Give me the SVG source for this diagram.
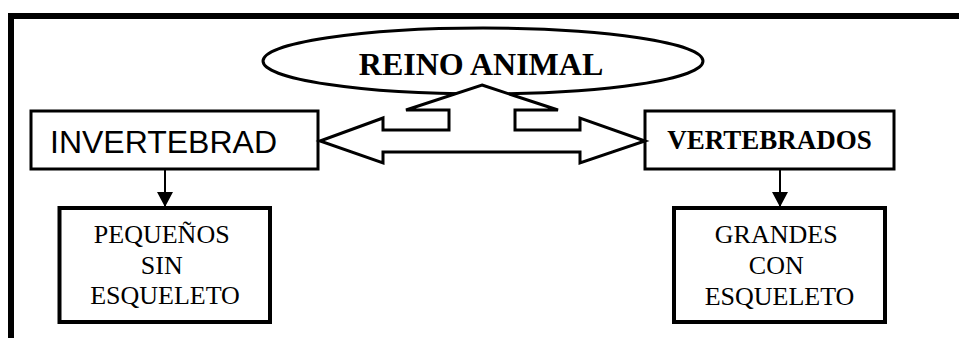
<svg xmlns="http://www.w3.org/2000/svg" width="959" height="338" viewBox="0 0 959 338">
  <style>
    .box { fill: #ffffff; stroke: #000000; stroke-width: 3; }
    .thick { fill: #ffffff; stroke: #000000; stroke-width: 4; }
    .serif { font-family: "Liberation Serif", "Times New Roman", serif; fill: #000000; }
    .sans { font-family: "Liberation Sans", Arial, sans-serif; fill: #000000; }
    .conn { stroke: #000000; stroke-width: 2; fill: none; }
  </style>
  <defs>
    <marker id="arrow" markerUnits="userSpaceOnUse" viewBox="0 0 15 16" refX="15" refY="8" markerWidth="15" markerHeight="16" orient="auto">
      <path d="M0,0 L15,8 L0,16 z" fill="#000000"/>
    </marker>
  </defs>
  <rect x="0" y="0" width="959" height="338" fill="#ffffff"/>
  <!-- outer frame -->
  <path d="M11,338 L11,16 L959,16" fill="none" stroke="#000000" stroke-width="6"/>

  <g id="reino-animal">
    <ellipse cx="483" cy="61" rx="220" ry="33" class="box"/>
    <text x="481" y="75" text-anchor="middle" class="serif" font-size="32" font-weight="bold">REINO ANIMAL</text>
  </g>

  <g id="invertebrados">
    <rect x="31" y="111" width="287" height="58" class="box"/>
    <text x="50" y="153" class="sans" font-size="32">INVERTEBRAD</text>
  </g>

  <g id="vertebrados">
    <rect x="645" y="111" width="249" height="58" class="box"/>
    <text x="769.5" y="149" text-anchor="middle" class="serif" font-size="27" font-weight="bold">VERTEBRADOS</text>
  </g>

  <g id="pequenos">
    <rect x="59.5" y="208" width="210.5" height="114" class="thick"/>
    <text text-anchor="middle" class="serif" font-size="26">
      <tspan x="165" y="243">PEQUEÑOS</tspan>
      <tspan x="165" y="273.5">SIN</tspan>
      <tspan x="165" y="304">ESQUELETO</tspan>
    </text>
  </g>

  <g id="grandes">
    <rect x="674" y="208" width="211" height="114" class="thick"/>
    <text text-anchor="middle" class="serif" font-size="26">
      <tspan x="779.5" y="243">GRANDES</tspan>
      <tspan x="779.5" y="274">CON</tspan>
      <tspan x="779.5" y="305">ESQUELETO</tspan>
    </text>
  </g>

  <g id="connectors">
    <polygon points="482,85 558,110 515,110 515,130 580,130 580,118 645,141 580,163 580,152 383,152 383,163 320,141 383,118 383,130 449,130 449,110 406,110" fill="#ffffff" stroke="#000000" stroke-width="3" stroke-linejoin="miter"/>
    <line x1="165" y1="170" x2="165" y2="207" class="conn" marker-end="url(#arrow)"/>
    <line x1="780" y1="170" x2="780" y2="207" class="conn" marker-end="url(#arrow)"/>
  </g>
</svg>
